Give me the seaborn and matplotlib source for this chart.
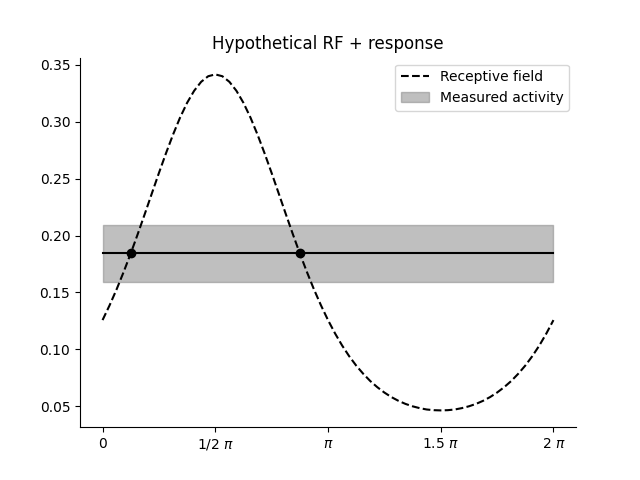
import numpy as np
import matplotlib
matplotlib.use("Agg")
import matplotlib.pyplot as plt
import seaborn as sns

# receptive field, read every pi/32 from 0 to 2 pi
rf_x = np.arange(65) * np.pi / 32
rf_y = [0.1257, 0.1387, 0.1528, 0.1681, 0.1843, 0.2014, 0.2191, 0.2371, 0.2550,
        0.2723, 0.2887, 0.3037, 0.3167, 0.3273, 0.3352, 0.3401, 0.3417,
        0.3401, 0.3352, 0.3273, 0.3167, 0.3037, 0.2887, 0.2723, 0.2550,
        0.2371, 0.2191, 0.2014, 0.1843, 0.1681, 0.1528, 0.1387, 0.1257,
        0.1140, 0.1034, 0.0940, 0.0857, 0.0785, 0.0721, 0.0667, 0.0620,
        0.0580, 0.0547, 0.0520, 0.0499, 0.0483, 0.0471, 0.0465, 0.0463,
        0.0465, 0.0471, 0.0483, 0.0499, 0.0520, 0.0547, 0.0580, 0.0620,
        0.0667, 0.0721, 0.0785, 0.0857, 0.0940, 0.1034, 0.1140, 0.1257]

# measured activity (mean and band)
activity_mean = 0.185
activity_low = 0.159
activity_high = 0.209
activity_span = [0, 2 * np.pi]

# points where the RF crosses the measured activity
cross_x = [0.397, 2.745]
cross_y = [0.185, 0.185]

tick_pos = [0, np.pi / 2, np.pi, 1.5 * np.pi, 2 * np.pi]
tick_labels = ['0', r'1/2 $\pi$', r'$\pi$', r'1.5 $\pi$', r'2 $\pi$']

fig, ax = plt.subplots(figsize=(6.4, 4.8), dpi=100)

sns.lineplot(x=rf_x, y=rf_y, color='k', linestyle='--', label='Receptive field', ax=ax)
ax.fill_between(activity_span, activity_low, activity_high, color='gray', alpha=0.5,
                label='Measured activity')
ax.plot(activity_span, [activity_mean, activity_mean], color='k')
ax.plot(cross_x, cross_y, 'ko')

ax.set_xticks(tick_pos)
ax.set_xticklabels(tick_labels)
ax.set_title('Hypothetical RF + response')
ax.legend(loc='upper right')
sns.despine(ax=ax)

plt.savefig('out.png', dpi=100)
